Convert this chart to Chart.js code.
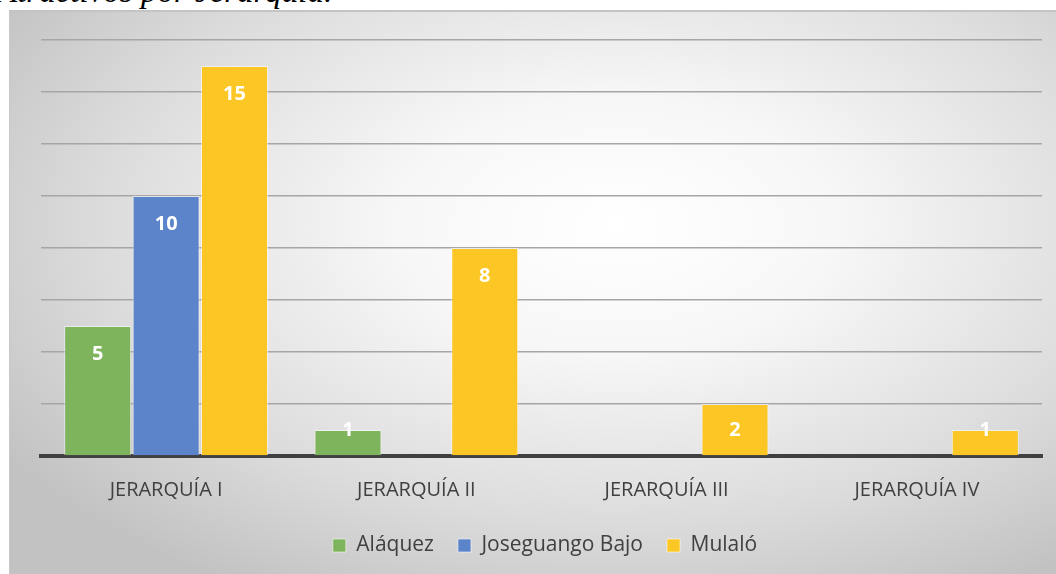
<!DOCTYPE html>
<html>
<head>
<meta charset="utf-8">
<script src="https://cdn.jsdelivr.net/npm/chart.js@4.4.1/dist/chart.umd.min.js"></script>
<style>
  html, body { margin: 0; padding: 0; background: #fff; width: 1056px; height: 574px; overflow: hidden; }
  #title { position: absolute; left: -3px; top: -25px; font: italic 33px/33px "Liberation Serif", "DejaVu Serif", serif; color: #000; white-space: nowrap; }
  #frame {
    position: absolute; left: 9px; top: 10px; width: 1047px; height: 564px;
    background: radial-gradient(ellipse 70% 75% at 58% 38%, #ffffff 0%, #f7f7f7 30%, #dcdcdc 70%, #c2c2c2 100%);
    border-top: 2px solid #c4c4c4; border-left: 1px solid #c8c8c8; box-sizing: border-box;
  }
  #frame canvas { position: absolute; left: 0; top: 0; }
</style>
</head>
<body>
<div id="title">Atractivos por Jerarquía.</div>
<div id="frame"><canvas id="chart" width="1047" height="564"></canvas></div>
<script>
const categories = ['JERARQUÍA I', 'JERARQUÍA II', 'JERARQUÍA III', 'JERARQUÍA IV'];
const alaquez = [5, 1, null, null];
const joseguango = [10, null, null, null];
const mulalo = [15, 8, 2, 1];
const seriesNames = ['Aláquez', 'Joseguango Bajo', 'Mulaló'];
const colors = ['rgb(125,180,92)', 'rgb(91,132,202)', 'rgb(252,198,36)'];

// white bold value near the top of each bar
const barLabels = {
  id: 'barLabels',
  afterDatasetsDraw(chart) {
    const ctx = chart.ctx;
    const base = chart.scales.y.getPixelForValue(0);
    ctx.save();
    ctx.fillStyle = '#fff';
    ctx.font = 'bold 20px "Open Sans", sans-serif';
    ctx.textAlign = 'center';
    ctx.textBaseline = 'middle';
    chart.data.datasets.forEach((ds, i) => {
      chart.getDatasetMeta(i).data.forEach((bar, j) => {
        const v = ds.data[j];
        if (v == null) return;
        const y = Math.min(bar.y + 28, base - 26);
        ctx.fillText(String(v), bar.x, y);
      });
    });
    ctx.restore();
  }
};

// legend sits a bit right of the canvas centre
const nudgeLegend = {
  id: 'nudgeLegend',
  afterLayout(chart) {
    if (!chart.legend) return;
    chart.legend.left += 19;
    chart.legend.right += 19;
  }
};

function boot() {
  const el = document.getElementById('chart');
  new Chart(el.getContext('2d'), {
    type: 'bar',
    data: {
      labels: categories,
      datasets: [alaquez, joseguango, mulalo].map((d, i) => ({
        label: seriesNames[i],
        data: d,
        backgroundColor: colors[i],
        borderColor: 'rgba(255,255,255,0.55)',
        borderWidth: 1,
        borderSkipped: 'bottom',
        categoryPercentage: 0.82,
        barPercentage: 0.98
      }))
    },
    options: {
      responsive: false,
      animation: false,
      layout: { padding: { top: 28, right: 15, bottom: 10, left: 0 } },
      plugins: {
        tooltip: { enabled: false },
        legend: {
          position: 'bottom',
          labels: {
            color: '#404040',
            font: { family: '"Open Sans", sans-serif', size: 21 },
            boxWidth: 13, boxHeight: 13, padding: 24
          }
        }
      },
      scales: {
        x: {
          afterFit(s) { s.height -= 13; },
          grid: { display: false, drawTicks: false },
          border: { color: '#404040', width: 4 },
          ticks: { color: '#404040', font: { family: '"Open Sans", sans-serif', size: 20 }, padding: 22 }
        },
        y: {
          min: 0, max: 16,
          afterFit(s) { s.width = 31; },
          grid: { color: '#a6a6a6', lineWidth: 1.5, drawTicks: false },
          border: { display: false },
          ticks: { stepSize: 2, display: false }
        }
      }
    },
    plugins: [barLabels, nudgeLegend]
  });
}

if (document.readyState === 'loading') {
  document.addEventListener('DOMContentLoaded', boot, { once: true });
} else {
  boot();
}
</script>
</body>
</html>
